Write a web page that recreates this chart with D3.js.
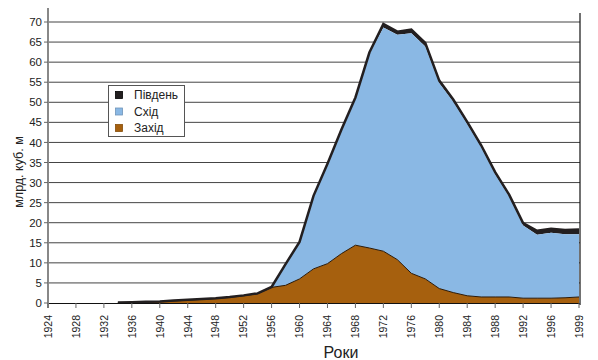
<!DOCTYPE html>
<html><head><meta charset="utf-8">
<script src="https://cdn.jsdelivr.net/npm/d3@7"></script>
<style>body{margin:0;background:#fff}svg{display:block}text{font-family:"Liberation Sans",Arial,sans-serif;fill:#222}</style>
</head><body><svg id="c" width="598" height="360"></svg>
<script>
const years = [1924,1926,1928,1930,1932,1934,1936,1938,1940,1942,1944,1946,1948,1950,1952,1954,1956,1958,1960,1962,1964,1966,1968,1970,1972,1974,1976,1978,1980,1982,1984,1986,1988,1990,1992,1994,1996,1998,1999];
const zakhid = [null,null,null,null,null,0.05,0.1,0.2,0.3,0.5,0.7,0.9,1.1,1.4,1.8,2.3,3.9,4.4,6.0,8.5,9.8,12.3,14.4,13.7,12.9,10.8,7.4,6.0,3.6,2.6,1.8,1.5,1.5,1.5,1.2,1.2,1.2,1.3,1.5];
const skhid = [null,null,null,null,null,0,0,0,0,0,0,0,0,0,0,0,0,5.1,9,18,24.7,30.7,36.6,48.3,55.7,56,59.8,57.9,51.2,47.6,42.8,37.3,30.6,25,18.1,15.8,16.3,15.8,15.6];
const pivden = [null,null,null,null,null,0.1,0.1,0.1,0.1,0.1,0.1,0.1,0.1,0.1,0.1,0.1,0.1,0.2,0.2,0.2,0.2,0.2,0.2,0.4,0.9,0.8,0.9,0.9,0.6,0.5,0.5,0.5,0.5,0.5,0.6,1.0,1.0,1.1,1.2];
const yTicks = d3.range(0, 75, 5);
const xLabels = [1924,1928,1932,1936,1940,1944,1948,1952,1956,1960,1964,1968,1972,1976,1980,1984,1988,1992,1996,1999];
const seriesNames = ["Південь","Схід","Захід"];
const colors = {"Південь":"#231f20","Схід":"#8ab8e4","Захід":"#a6600e"};

const svg = d3.select("#c");
const x = d3.scalePoint().domain(years).range([48, 579]);
const y = d3.scaleLinear().domain([0, 70]).range([303, 22]);

// gridlines
svg.append("g").selectAll("line").data(yTicks.filter(v=>v>0)).join("line")
  .attr("x1", 48).attr("x2", 580).attr("y1", d=>y(d)).attr("y2", d=>y(d))
  .attr("stroke", "#444").attr("stroke-width", 1);

// stacked data
const rows = years.map((yr,i)=>({year:yr, z:zakhid[i], s:skhid[i], p:pivden[i]}));
const def = d=>d.z!==null;
const aZ = d3.area().defined(def).x(d=>x(d.year)).y0(y(0)).y1(d=>y(d.z));
const aS = d3.area().defined(def).x(d=>x(d.year)).y0(d=>y(d.z)).y1(d=>y(d.z+d.s));
const aP = d3.area().defined(def).x(d=>x(d.year)).y0(d=>y(d.z+d.s)).y1(d=>y(d.z+d.s+d.p));
svg.append("path").attr("d", aP(rows)).attr("fill", colors["Південь"]);
svg.append("path").attr("d", aS(rows)).attr("fill", colors["Схід"]);
svg.append("path").attr("d", aZ(rows)).attr("fill", colors["Захід"]);
svg.append("path").attr("d", d3.line().defined(def).x(d=>x(d.year)).y(d=>y(d.z))(rows))
  .attr("fill","none").attr("stroke","#2a1a0a").attr("stroke-width",1);
svg.append("path").attr("d", d3.line().defined(def).x(d=>x(d.year)).y(d=>y(d.z+d.s+d.p))(rows))
  .attr("fill","none").attr("stroke","#231f20").attr("stroke-width",2.5).attr("stroke-linejoin","miter");

// right border
svg.append("line").attr("x1",580).attr("x2",580).attr("y1",13).attr("y2",305).attr("stroke","#111").attr("stroke-width",1.2);
// bottom axis
svg.append("line").attr("x1",48).attr("x2",580).attr("y1",303.5).attr("y2",303.5).attr("stroke","#111").attr("stroke-width",1.2);
// left axis
svg.append("line").attr("x1",48).attr("x2",48).attr("y1",8).attr("y2",308).attr("stroke","#888").attr("stroke-width",2);

// y ticks
const yg = svg.append("g");
yg.selectAll("line").data(yTicks).join("line")
  .attr("x1",44).attr("x2",48).attr("y1",d=>y(d)).attr("y2",d=>y(d)).attr("stroke","#666").attr("stroke-width",1);
yg.selectAll("text").data(yTicks).join("text")
  .attr("x",42).attr("y",d=>y(d)).attr("dy","0.36em").attr("text-anchor","end")
  .style("font-size","11.5px").text(d=>d);

// x ticks
const xg = svg.append("g");
xg.selectAll("line").data(xLabels).join("line")
  .attr("x1",d=>x(d)).attr("x2",d=>x(d)).attr("y1",303).attr("y2",308).attr("stroke","#666");
xg.selectAll("text").data(xLabels).join("text")
  .attr("transform",d=>`translate(${x(d)},315) rotate(-90)`)
  .attr("dy","0.36em").attr("text-anchor","end").style("font-size","10.5px").text(d=>d);

// titles
svg.append("text").attr("transform","translate(18,172) rotate(-90)").attr("text-anchor","middle")
  .attr("dy","0.36em").style("font-size","12.5px").text("млрд. куб. м");
svg.append("text").attr("x",341).attr("y",358).attr("text-anchor","middle")
  .style("font-family","'Liberation Sans Narrow','Liberation Sans',Arial,sans-serif").style("font-size","16px").text("Роки");

// legend
const lg = svg.append("g");
lg.append("rect").attr("x",108.5).attr("y",85.5).attr("width",76).attr("height",51)
  .attr("fill","#fff").attr("stroke","#555").attr("stroke-width",1);
seriesNames.forEach((n,i)=>{
  const cy = 95 + i*16.5;
  lg.append("rect").attr("x",115.5).attr("y",cy-3.5).attr("width",7).attr("height",7)
    .attr("fill",colors[n]).attr("stroke", n==="Південь" ? "#000" : d3.color(colors[n]).darker(0.6)).attr("stroke-width",0.8);
  lg.append("text").attr("x",134).attr("y",cy).attr("dy","0.36em").style("font-size","12px").text(n);
});
</script></body></html>
